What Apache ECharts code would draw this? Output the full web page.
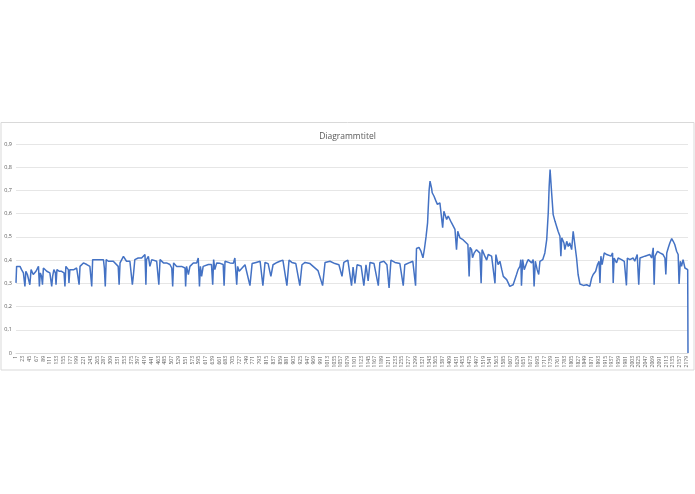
<!DOCTYPE html>
<html>
<head>
    <meta charset="utf-8">
    <title>Diagrammtitel</title>
    <script src="https://cdn.jsdelivr.net/npm/echarts@6/dist/echarts.min.js"></script>
    <style>
        html, body { margin: 0; padding: 0; background: #fff; }
        #chart { width: 695px; height: 494px; }
    </style>
</head>
<body>
    <div id="chart"></div>
    <script>
        // Anzahl der Kategorien (1..2184), Beschriftung jede 22.
        const pointCount = 2184;
        const categories = Array.from({ length: pointCount }, (_, i) => String(i + 1));
        const yTicks = [0, 0.1, 0.2, 0.3, 0.4, 0.5, 0.6, 0.7, 0.8, 0.9];

        const positions = [
            1, 3, 9, 14, 19, 25, 30, 33, 38, 42, 46, 50, 54, 57, 63, 66, 70, 74, 77, 80,
            84, 87, 90, 95, 101, 106, 111, 117, 120, 124, 129, 131, 134, 142, 149, 157, 160, 163, 171, 173,
            176, 182, 189, 198, 203, 206, 209, 214, 220, 225, 231, 236, 241, 247, 250, 258, 268, 274, 285, 288,
            291, 294, 301, 306, 317, 323, 333, 336, 339, 344, 350, 360, 371, 377, 379, 382, 387, 393, 398, 404,
            409, 415, 420, 423, 425, 431, 436, 442, 447, 458, 463, 465, 469, 474, 480, 490, 501, 507, 510, 513,
            523, 528, 539, 544, 550, 552, 555, 561, 566, 577, 588, 593, 597, 600, 604, 609, 615, 626, 636, 640,
            643, 647, 653, 664, 674, 677, 680, 685, 696, 707, 712, 718, 721, 726, 745, 761, 768, 781, 794, 803,
            810, 820, 829, 836, 849, 858, 868, 881, 888, 897, 910, 923, 930, 940, 956, 969, 982, 997, 1005, 1021,
            1037, 1050, 1060, 1066, 1079, 1091, 1096, 1102, 1109, 1122, 1131, 1138, 1145, 1151, 1164, 1178, 1183, 1196, 1206, 1213,
            1219, 1232, 1248, 1259, 1264, 1281, 1290, 1299, 1302, 1310, 1316, 1323, 1328, 1333, 1338, 1340, 1343, 1346, 1348, 1351,
            1353, 1359, 1365, 1370, 1378, 1384, 1387, 1391, 1400, 1405, 1416, 1427, 1432, 1436, 1443, 1453, 1459, 1469, 1473, 1476,
            1481, 1484, 1489, 1497, 1508, 1512, 1515, 1524, 1530, 1535, 1546, 1551, 1557, 1560, 1567, 1573, 1579, 1584, 1589, 1595,
            1600, 1605, 1611, 1616, 1622, 1627, 1632, 1638, 1641, 1643, 1647, 1652, 1660, 1665, 1670, 1676, 1681, 1684, 1688, 1694,
            1699, 1703, 1712, 1719, 1725, 1730, 1733, 1736, 1741, 1746, 1752, 1757, 1762, 1768, 1771, 1774, 1781, 1784, 1790, 1795,
            1800, 1806, 1811, 1817, 1822, 1827, 1833, 1844, 1855, 1865, 1871, 1876, 1884, 1890, 1895, 1898, 1901, 1905, 1912, 1920,
            1925, 1934, 1939, 1941, 1944, 1952, 1957, 1968, 1977, 1984, 1987, 1995, 2006, 2011, 2019, 2024, 2028, 2033, 2044, 2049,
            2060, 2066, 2071, 2074, 2077, 2085, 2093, 2103, 2109, 2112, 2115, 2120, 2125, 2131, 2136, 2141, 2147, 2152, 2155, 2159,
            2163, 2168, 2174, 2179, 2183, 2184
        ];
        const values = [
            0.302, 0.373, 0.381, 0.373, 0.359, 0.345, 0.287, 0.352, 0.338, 0.330, 0.294, 0.359, 0.359, 0.338, 0.338, 0.352, 0.345, 0.373, 0.287, 0.345,
            0.330, 0.294, 0.366, 0.359, 0.352, 0.352, 0.345, 0.287, 0.330, 0.359, 0.345, 0.294, 0.359, 0.352, 0.352, 0.345, 0.287, 0.373, 0.359, 0.302,
            0.359, 0.352, 0.359, 0.366, 0.373, 0.294, 0.373, 0.381, 0.388, 0.395, 0.381, 0.381, 0.373, 0.287, 0.402, 0.402, 0.402, 0.395, 0.402, 0.366,
            0.287, 0.402, 0.395, 0.388, 0.395, 0.388, 0.373, 0.294, 0.388, 0.395, 0.416, 0.395, 0.395, 0.402, 0.294, 0.330, 0.402, 0.402, 0.409, 0.416,
            0.409, 0.402, 0.424, 0.294, 0.402, 0.416, 0.373, 0.402, 0.409, 0.395, 0.402, 0.294, 0.402, 0.395, 0.388, 0.388, 0.381, 0.366, 0.287, 0.388,
            0.373, 0.381, 0.373, 0.373, 0.366, 0.287, 0.373, 0.338, 0.373, 0.388, 0.388, 0.409, 0.287, 0.373, 0.330, 0.373, 0.375, 0.381, 0.381, 0.294,
            0.402, 0.359, 0.388, 0.386, 0.381, 0.290, 0.395, 0.388, 0.388, 0.386, 0.409, 0.294, 0.373, 0.352, 0.380, 0.290, 0.385, 0.390, 0.395, 0.290,
            0.390, 0.385, 0.330, 0.380, 0.390, 0.395, 0.400, 0.290, 0.400, 0.390, 0.385, 0.290, 0.380, 0.390, 0.385, 0.370, 0.355, 0.290, 0.390, 0.395,
            0.385, 0.380, 0.330, 0.390, 0.400, 0.290, 0.370, 0.300, 0.380, 0.375, 0.290, 0.380, 0.310, 0.390, 0.385, 0.290, 0.390, 0.395, 0.380, 0.280,
            0.400, 0.390, 0.385, 0.290, 0.380, 0.390, 0.395, 0.290, 0.450, 0.455, 0.440, 0.410, 0.450, 0.500, 0.560, 0.620, 0.700, 0.740, 0.745, 0.710,
            0.690, 0.675, 0.655, 0.640, 0.647, 0.653, 0.540, 0.610, 0.575, 0.590, 0.560, 0.532, 0.445, 0.524, 0.496, 0.488, 0.481, 0.467, 0.330, 0.455,
            0.445, 0.410, 0.430, 0.445, 0.430, 0.300, 0.445, 0.417, 0.400, 0.424, 0.417, 0.417, 0.300, 0.424, 0.381, 0.395, 0.359, 0.330, 0.323, 0.316,
            0.302, 0.287, 0.294, 0.294, 0.302, 0.338, 0.359, 0.373, 0.402, 0.290, 0.402, 0.359, 0.388, 0.402, 0.402, 0.388, 0.402, 0.287, 0.395, 0.359,
            0.338, 0.395, 0.402, 0.431, 0.488, 0.603, 0.718, 0.790, 0.690, 0.596, 0.567, 0.546, 0.524, 0.503, 0.417, 0.496, 0.474, 0.445, 0.481, 0.459,
            0.474, 0.445, 0.524, 0.520, 0.409, 0.338, 0.297, 0.291, 0.294, 0.287, 0.323, 0.338, 0.352, 0.381, 0.395, 0.302, 0.417, 0.381, 0.431, 0.424,
            0.424, 0.417, 0.431, 0.302, 0.409, 0.388, 0.409, 0.402, 0.395, 0.291, 0.409, 0.402, 0.409, 0.395, 0.424, 0.294, 0.409, 0.402, 0.417, 0.409,
            0.424, 0.409, 0.453, 0.294, 0.417, 0.438, 0.431, 0.424, 0.409, 0.338, 0.431, 0.453, 0.474, 0.493, 0.481, 0.467, 0.438, 0.424, 0.297, 0.395,
            0.373, 0.402, 0.366, 0.359, 0.359, 0
        ];

        const chart = echarts.init(document.getElementById('chart'));
        const seriesData = positions.map((p, i) => [p - 1, values[i]]);

        chart.setOption({
            animation: false,
            backgroundColor: '#ffffff',
            title: {
                text: 'Diagrammtitel',
                left: 'center',
                top: 127,
                textStyle: { fontFamily: 'Open Sans', fontSize: 8.5, fontWeight: 'normal', color: '#595959' }
            },
            graphic: [{
                type: 'rect',
                shape: { x: 1, y: 122.5, width: 693, height: 247.5 },
                style: { fill: 'none', stroke: '#d9d9d9', lineWidth: 1 },
                silent: true
            }],
            grid: { left: 16, right: 7, top: 144, bottom: 141 },
            xAxis: {
                type: 'category',
                data: categories,
                boundaryGap: false,
                axisLine: { show: true, lineStyle: { color: '#d9d9d9' } },
                axisTick: { show: false },
                axisLabel: {
                    interval: 21,
                    showMinLabel: true,
                    rotate: 90,
                    fontSize: 5,
                    color: '#595959',
                    fontFamily: 'Open Sans',
                    margin: 3
                }
            },
            yAxis: {
                type: 'value',
                min: yTicks[0],
                max: yTicks[yTicks.length - 1],
                interval: 0.1,
                axisLine: { show: false },
                axisTick: { show: false },
                splitLine: { lineStyle: { color: '#e6e6e6', width: 1 } },
                axisLabel: {
                    fontSize: 5.5,
                    color: '#595959',
                    fontFamily: 'Open Sans',
                    margin: 4,
                    formatter: v => v === 0 ? '0' : v.toFixed(1).replace('.', ',')
                }
            },
            series: [{
                type: 'line',
                data: seriesData,
                showSymbol: false,
                lineStyle: { color: '#4472c4', width: 1.5 },
                itemStyle: { color: '#4472c4' }
            }]
        });
    </script>
</body>
</html>
